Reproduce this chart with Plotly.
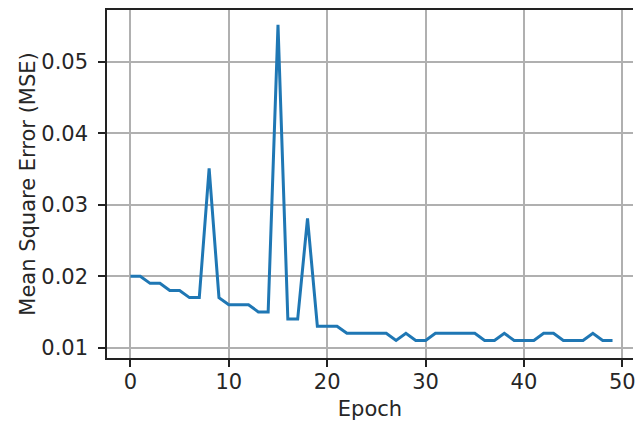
import plotly.graph_objects as go

epochs = list(range(50))
mse = [0.020, 0.020, 0.019, 0.019, 0.018, 0.018, 0.017, 0.017, 0.0351, 0.017,
       0.016, 0.016, 0.016, 0.015, 0.015, 0.0552, 0.014, 0.014, 0.0281, 0.013,
       0.013, 0.013, 0.012, 0.012, 0.012, 0.012, 0.012, 0.011, 0.012, 0.011,
       0.011, 0.012, 0.012, 0.012, 0.012, 0.012, 0.011, 0.011, 0.012, 0.011,
       0.011, 0.011, 0.012, 0.012, 0.011, 0.011, 0.011, 0.012, 0.011, 0.011]

x_ticks = [0, 10, 20, 30, 40, 50]
y_ticks = [0.01, 0.02, 0.03, 0.04, 0.05]
y_tick_labels = ["0.01", "0.02", "0.03", "0.04", "0.05"]

FONT = "DejaVu Sans"
FS = 21

fig = go.Figure()
fig.add_trace(go.Scatter(x=epochs, y=mse, mode="lines",
                         line=dict(color="#1f77b4", width=3),
                         showlegend=False))

fig.update_layout(
    width=636, height=421,
    margin=dict(l=107, r=0, t=10, b=63, pad=0),
    paper_bgcolor="white", plot_bgcolor="white",
    font=dict(family=FONT, size=FS, color="#262626"),
)

fig.update_xaxes(
    range=[-2.38, 51.08],
    tickvals=x_ticks,
    showgrid=True, gridcolor="#b0b0b0", gridwidth=1.6,
    zeroline=False,
    showline=True, linecolor="#222222", linewidth=1.5, mirror=True,
    ticks="outside", ticklen=7, tickwidth=1.6, tickcolor="#222222",
    ticklabelstandoff=-3,
    ticklabeloverflow="allow",
    title=dict(text="Epoch", font=dict(family=FONT, size=FS, color="#262626"), standoff=8),
)

fig.update_yaxes(
    range=[0.008542, 0.05729],
    tickvals=y_ticks, ticktext=y_tick_labels,
    showgrid=True, gridcolor="#b0b0b0", gridwidth=1.6,
    zeroline=False,
    showline=True, linecolor="#222222", linewidth=1.5, mirror=False,
    ticks="outside", ticklen=7, tickwidth=1.6, tickcolor="#222222",
    ticklabelstandoff=6,
    title=dict(text="Mean Square Error (MSE)", font=dict(family=FONT, size=FS, color="#262626"), standoff=0),
)

fig.write_html("out.html")
